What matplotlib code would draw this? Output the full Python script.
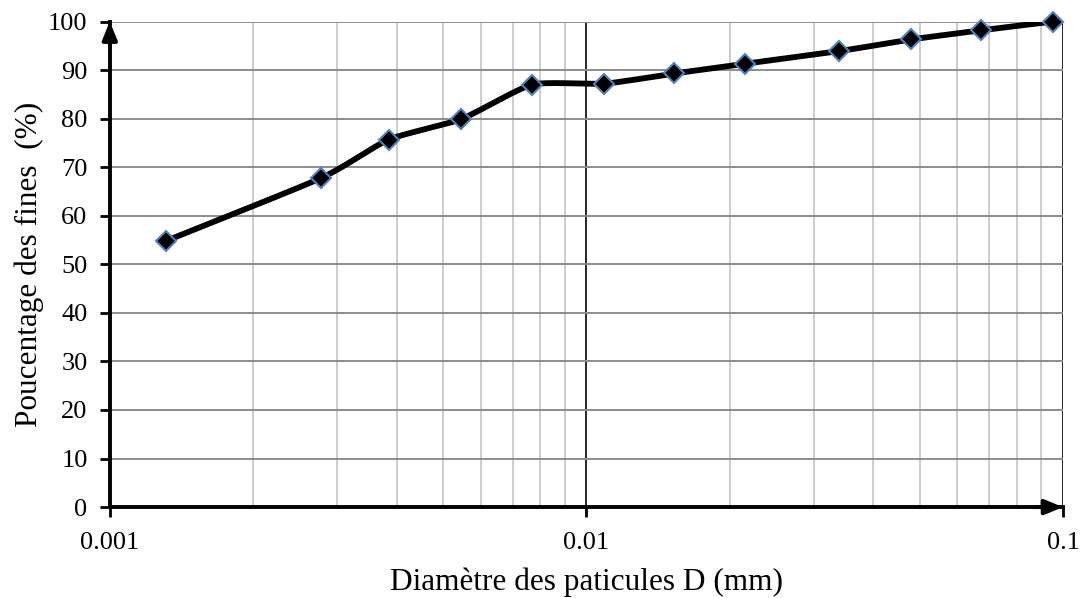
import numpy as np
import matplotlib.pyplot as plt
from matplotlib.ticker import LogLocator, FixedLocator, NullFormatter

plt.rcParams['font.family'] = ['Liberation Serif', 'DejaVu Serif']

# diametre des particules (mm) et pourcentage des fines
diametre = [0.00131, 0.00278, 0.00385, 0.00546, 0.00769, 0.0109,
            0.0153, 0.0215, 0.0339, 0.0479, 0.0674, 0.0953]
pourcentage = [54.8, 67.8, 75.7, 79.9, 87.0, 87.2,
               89.3, 91.3, 93.9, 96.3, 98.2, 100.0]
x_ticks = [0.001, 0.01, 0.1]
x_ticklabels = ['0.001', '0.01', '0.1']
y_ticks = list(range(0, 101, 10))


def smooth(xs, ys, n=30):
    # courbe lissee facon tableur (Catmull-Rom) en echelle log
    px = np.log10(xs)
    py = np.asarray(ys, dtype=float)
    px = np.concatenate([[2 * px[0] - px[1]], px, [2 * px[-1] - px[-2]]])
    py = np.concatenate([[2 * py[0] - py[1]], py, [2 * py[-1] - py[-2]]])
    out_x, out_y = [], []
    t = np.linspace(0, 1, n)
    for i in range(1, len(px) - 2):
        p0, p1, p2, p3 = (np.array([px[j], py[j]]) for j in (i - 1, i, i + 1, i + 2))
        m1 = (p2 - p0) / 2 * 0.6
        m2 = (p3 - p1) / 2 * 0.6
        h00 = 2 * t**3 - 3 * t**2 + 1
        h10 = t**3 - 2 * t**2 + t
        h01 = -2 * t**3 + 3 * t**2
        h11 = t**3 - t**2
        seg = (np.outer(h00, p1) + np.outer(h10, m1) +
               np.outer(h01, p2) + np.outer(h11, m2))
        out_x.extend(seg[:, 0])
        out_y.extend(seg[:, 1])
    return 10 ** np.array(out_x), np.array(out_y)


fig = plt.figure(figsize=(10.87, 5.98), dpi=100)
ax = fig.add_axes([0.101, 0.152, 0.877, 0.812])

ax.set_xscale('log')
ax.set_xlim(0.001, 0.1)
ax.set_ylim(0, 100)

# grille
ax.xaxis.set_minor_locator(LogLocator(base=10, subs=np.arange(2, 10)))
ax.xaxis.set_minor_formatter(NullFormatter())
ax.grid(which='minor', axis='x', color='#c4c4c4', linewidth=1.2)
ax.grid(which='major', axis='x', color='black', linewidth=1.2)
ax.grid(which='major', axis='y', color='#8c8c8c', linewidth=1.4)
ax.set_axisbelow(True)

sx, sy = smooth(diametre, pourcentage)
ax.plot(sx, sy, color='black', linewidth=4.2, zorder=3)
ax.plot(diametre, pourcentage, linestyle='none', marker='D', markersize=10.5,
        markerfacecolor='black', markeredgecolor='#4f81bd',
        markeredgewidth=1.5, zorder=4, clip_on=False)

ax.xaxis.set_major_locator(FixedLocator(x_ticks))
ax.set_xticklabels(x_ticklabels)
ax.set_yticks(y_ticks)
ax.tick_params(axis='both', which='major', direction='out', length=7,
               width=2, labelsize=19, colors='black')
ax.tick_params(axis='x', which='minor', length=0)
ax.tick_params(axis='x', pad=11)
ax.tick_params(axis='y', pad=9)

for side in ['top', 'right']:
    ax.spines[side].set_visible(False)
for side in ['left', 'bottom']:
    ax.spines[side].set_linewidth(2.8)
    ax.spines[side].set_color('black')

# fleches au bout des axes
arrow = dict(arrowstyle='-|>,head_length=1.1,head_width=0.45', color='black',
             linewidth=2.8, shrinkA=0, shrinkB=0)
ax.annotate('', xy=(1, 0), xytext=(0.97, 0), xycoords='axes fraction',
            arrowprops=arrow, annotation_clip=False)
ax.annotate('', xy=(0, 1), xytext=(0, 0.95), xycoords='axes fraction',
            arrowprops=arrow, annotation_clip=False)

ax.set_xlabel('Diamètre des paticules D (mm)', fontsize=22.5, labelpad=10)
ax.set_ylabel('Poucentage des fines  (%)', fontsize=22.5, labelpad=3)

fig.savefig('out.png', dpi=100)
